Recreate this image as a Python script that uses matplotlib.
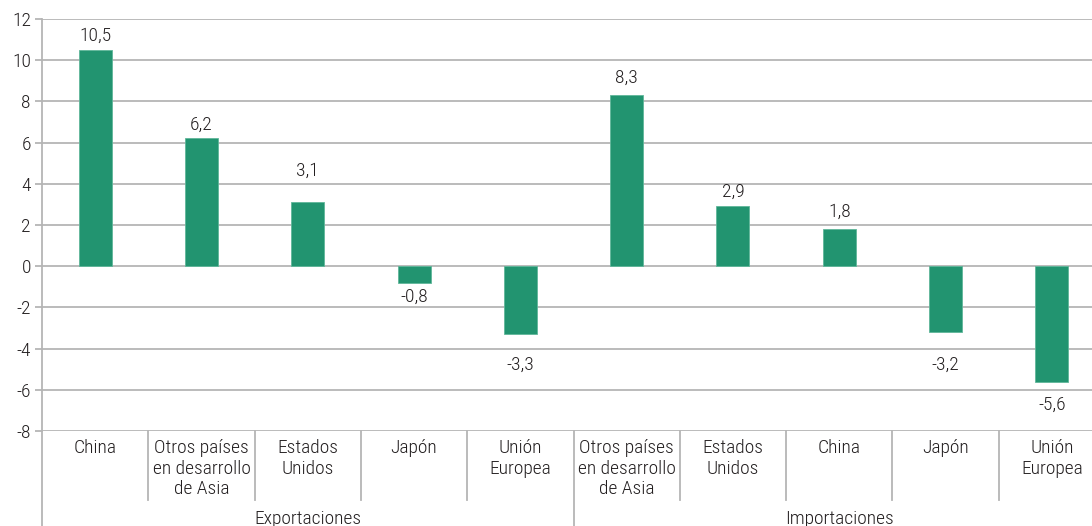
import matplotlib
matplotlib.use("Agg")
import matplotlib.pyplot as plt
from matplotlib import font_manager
from matplotlib.transforms import offset_copy, blended_transform_factory

categories = ["China", "Otros países\nen desarrollo\nde Asia", "Estados\nUnidos", "Japón", "Unión\nEuropea",
              "Otros países\nen desarrollo\nde Asia", "Estados\nUnidos", "China", "Japón", "Unión\nEuropea"]
values = [10.5, 6.2, 3.1, -0.8, -3.3, 8.3, 2.9, 1.8, -3.2, -5.6]
value_labels = ["10,5", "6,2", "3,1", "-0,8", "-3,3", "8,3", "2,9", "1,8", "-3,2", "-5,6"]
groups = ["Exportaciones", "Importaciones"]
group_sizes = [5, 5]
yticks = [-8, -6, -4, -2, 0, 2, 4, 6, 8, 10, 12]

# label gap from bar end (pixels)
label_gaps = [14, 14, 32, 14.5, 31, 17, 15, 17, 33, 23]

avail = {f.name for f in font_manager.fontManager.ttflist}
fams = [f for f in ["Roboto Condensed", "Liberation Sans Narrow", "DejaVu Sans Condensed", "Roboto", "DejaVu Sans"] if f in avail]
plt.rcParams['font.family'] = fams
plt.rcParams['font.weight'] = 'light'

W, H = 1092, 526
fig = plt.figure(figsize=(W / 100, H / 100), dpi=100)
ax_left, ax_right, ax_top, ax_bot = 42, 1105, 19, 431
ax = fig.add_axes([ax_left / W, (H - ax_bot) / H, (ax_right - ax_left) / W, (ax_bot - ax_top) / H])

green = "#229470"
grid = "#b5b5b5"
txt = "#231f20"
fs = 14

x = list(range(len(values)))
ax.bar(x, values, width=0.31, color=green, edgecolor="#5fb79a", linewidth=0.6, zorder=3)
ax.set_xlim(-0.5, len(values) - 0.5)
ax.set_ylim(-8, 12)
ax.set_yticks(yticks)
ax.set_yticklabels([str(t) for t in yticks], fontsize=fs, color=txt, fontweight='light')
ax.set_xticks([])
for t in yticks:
    ax.axhline(t, color=grid, lw=1.3, zorder=1)
for s in ["top", "right", "bottom"]:
    ax.spines[s].set_visible(False)
ax.spines["left"].set_color(grid)
ax.spines["left"].set_linewidth(1.3)
ax.tick_params(axis="y", length=5, width=1.3, color=grid, pad=3)

ax_h = ax_bot - ax_top
# extend y axis to bottom
ax.plot([0, 0], [0, -(H - ax_bot) / ax_h], transform=ax.transAxes, color=grid, lw=1.3, clip_on=False)

# value labels
for i, (v, lab, g) in enumerate(zip(values, value_labels, label_gaps)):
    dy = g * 0.72 if v >= 0 else -g * 0.72
    tr = offset_copy(ax.transData, fig=fig, x=0, y=dy, units="points")
    ax.text(i, v, lab, transform=tr, ha="center", va="center", fontsize=fs, color=txt)

# category labels
trc = offset_copy(ax.transData, fig=fig, x=0, y=-6.0, units="points")
for i, c in enumerate(categories):
    ax.text(i, -8, c, transform=trc, ha="center", va="top", fontsize=fs, color=txt, linespacing=1.17,
            clip_on=False)

# separators
bt = blended_transform_factory(ax.transData, ax.transAxes)
short = -(500 - ax_bot) / ax_h
longv = -(H - ax_bot) / ax_h
boundaries = []
s = 0
for gsize in group_sizes:
    s += gsize
    boundaries.append(s - 0.5)
for i in range(len(values) - 1):
    b = i + 0.5
    end = longv if b in boundaries else short
    ax.plot([b, b], [0, end], transform=bt, color=grid, lw=1.3, clip_on=False)

# group labels
start = 0
for gname, gsize in zip(groups, group_sizes):
    center = start + gsize / 2 - 0.5
    ax.text(center, -(519 - ax_bot) / ax_h, gname, transform=bt, ha="center", va="center",
            fontsize=fs, color=txt, clip_on=False)
    start += gsize

fig.savefig("out.png", dpi=100)
